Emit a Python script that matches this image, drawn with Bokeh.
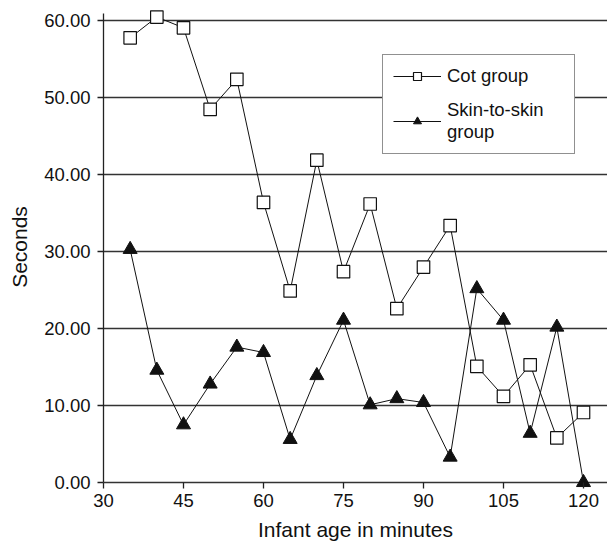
from bokeh.plotting import figure
from bokeh.models import Range1d, Legend, LegendItem, FixedTicker, NumeralTickFormatter
from bokeh.embed import file_html
from bokeh.resources import INLINE

ages = [35, 40, 45, 50, 55, 60, 65, 70, 75, 80, 85, 90, 95, 100, 105, 110, 115, 120]
cot_group = [57.8, 60.5, 59.1, 48.5, 52.4, 36.4, 24.9, 41.9, 27.4, 36.2, 22.6, 28.0,
             33.4, 15.1, 11.2, 15.3, 5.8, 9.1]
skin_group = [30.3, 14.6, 7.5, 12.8, 17.6, 16.9, 5.6, 13.9, 21.1, 10.1, 10.9, 10.4,
              3.3, 25.2, 21.1, 6.4, 20.2, 0.0]
x_ticks = [30, 45, 60, 75, 90, 105, 120]
y_ticks = [0, 10, 20, 30, 40, 50, 60]

FONT = "Liberation Sans"

p = figure(width=607, height=544, output_backend="svg", toolbar_location=None,
           x_range=Range1d(30, 124.5), y_range=Range1d(-0.78, 62),
           min_border_left=103, min_border_right=0, min_border_top=5, min_border_bottom=56)
p.outline_line_color = None
p.background_fill_color = "white"

p.xgrid.grid_line_color = None
p.ygrid.ticker = FixedTicker(ticks=y_ticks)
p.ygrid.grid_line_color = "#333333"
p.ygrid.grid_line_width = 1.3

p.xaxis.ticker = FixedTicker(ticks=x_ticks)
p.yaxis.ticker = FixedTicker(ticks=y_ticks)
p.yaxis.formatter = NumeralTickFormatter(format="0.00")
p.yaxis.bounds = (0, 61)
for ax in (p.xaxis, p.yaxis):
    ax.axis_line_color = "#222222"
    ax.axis_line_width = 1.3
    ax.major_tick_line_color = "#222222"
    ax.major_tick_line_width = 1.3
    ax.minor_tick_line_color = None
    ax.major_label_text_font = FONT
    ax.major_label_text_font_size = "18.5px"
    ax.major_label_text_color = "#111111"
    ax.axis_label_text_font = FONT
    ax.axis_label_text_font_style = "normal"
    ax.axis_label_text_font_size = "21px"
    ax.axis_label_text_color = "#111111"
p.yaxis.major_tick_in = 0
p.yaxis.major_tick_out = 6
# x axis line is the 0.00 grid line; ticks hang below it inside the frame margin
p.xaxis.axis_line_color = None
p.xaxis.major_tick_in = 6
p.xaxis.major_tick_out = 0
p.xaxis.axis_label = "Infant age in minutes"
p.yaxis.axis_label = "Seconds"
p.xaxis.major_label_standoff = 5
p.yaxis.major_label_standoff = 7
p.xaxis.axis_label_standoff = 8
p.yaxis.axis_label_standoff = 10

cot_line = p.line(ages, cot_group, line_color="#111111", line_width=1)
cot_pts = p.scatter(ages, cot_group, marker="square", size=12.5, fill_color="white",
                    line_color="#111111", line_width=1.2)
skin_line = p.line(ages, skin_group, line_color="#111111", line_width=1)
skin_pts = p.scatter(ages, skin_group, marker="triangle", size=14, fill_color="#111111",
                     line_color="#111111", line_width=1)

legend = Legend(items=[
    LegendItem(label="Cot group", renderers=[cot_line, cot_pts]),
    LegendItem(label="Skin-to-skin\ngroup", renderers=[skin_line, skin_pts]),
], location=(279, 334))
legend.border_line_color = "#222222"
legend.border_line_width = 1.3
legend.background_fill_alpha = 1
legend.label_text_font = FONT
legend.label_text_font_size = "18.5px"
legend.label_text_line_height = 1.35
legend.label_text_color = "#111111"
legend.glyph_width = 48
legend.label_standoff = 6
legend.label_width = 117
legend.padding = 10
legend.spacing = 12
legend.margin = 0
p.add_layout(legend, "center")

open("out.html", "w").write(file_html(p, INLINE))
